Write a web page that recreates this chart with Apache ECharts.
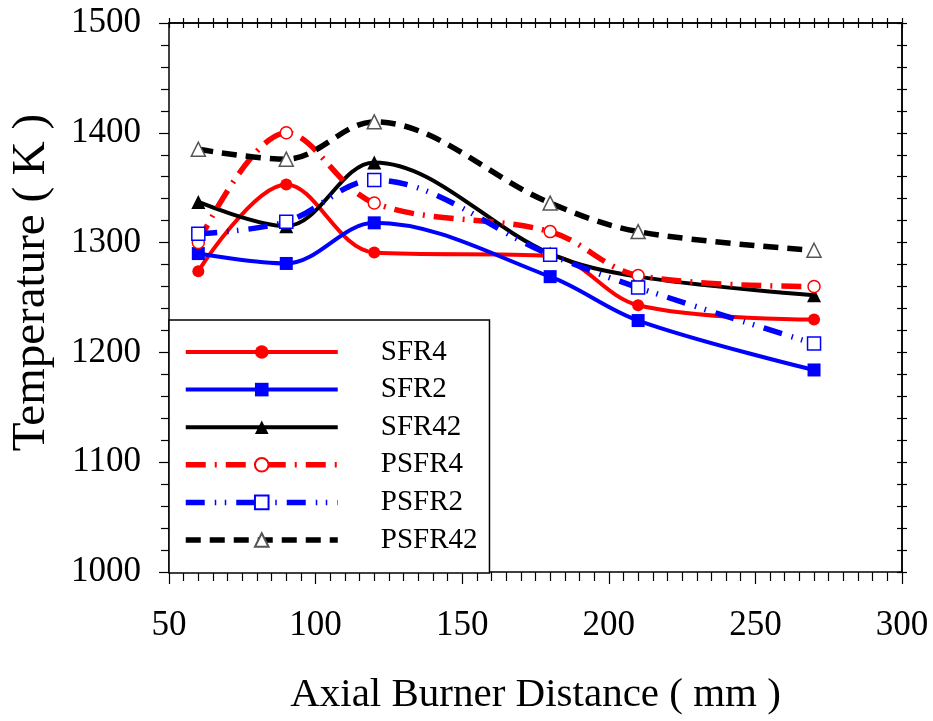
<!DOCTYPE html>
<html>
<head>
<meta charset="utf-8">
<script src="https://cdn.jsdelivr.net/npm/echarts@6/dist/echarts.min.js"></script>
<style>html,body{margin:0;padding:0;background:#fff}#c{width:933px;height:721px}</style>
</head>
<body>
<div id="c"></div>
<script>
const distances = [60, 90, 120, 180, 210, 270];
const SFR4   = [1274, 1353, 1291, 1288, 1243, 1230];
const SFR2   = [1290, 1281, 1318, 1269, 1229, 1184];
const SFR42  = [1337, 1315, 1373, 1290, 1269, 1252];
const PSFR4  = [1300, 1400, 1336, 1310, 1270, 1260];
const PSFR2  = [1308, 1319, 1357, 1289, 1259, 1208];
const PSFR42 = [1385, 1376, 1410, 1336, 1310, 1293];
const xTicks = [50, 100, 150, 200, 250, 300];
const yTicks = [1000, 1100, 1200, 1300, 1400, 1500];

const FF = "'Liberation Serif','Times New Roman',serif";
const pairs = arr => distances.map((d, i) => [d, arr[i]]);

function mk(name, data, color, lineType, width, symbol, size, filled, strokeColor) {
  return {
    name, type: 'line', data: pairs(data), smooth: 0.35,
    symbol, symbolSize: size,
    lineStyle: { color, width, type: lineType, cap: 'butt' },
    itemStyle: filled ? { color, borderWidth: 0 } : { color: '#fff', borderColor: strokeColor || color, borderWidth: 1.5 },
    emphasis: { disabled: true },
    z: 3
  };
}

const chart = echarts.init(document.getElementById('c'), null, { renderer: 'canvas' });
const axisLine = { show: true, lineStyle: { color: '#000', width: 1.5 } };
const tickStyle = { color: '#000', width: 1.2 };
chart.setOption({
  animation: false,
  backgroundColor: '#fff',
  grid: { left: 169, right: 31, top: 23, bottom: 146.5, containLabel: false },
  xAxis: [
    { type: 'value', min: xTicks[0], max: xTicks[xTicks.length - 1], interval: 50, position: 'bottom',
      axisLine, splitLine: { show: false },
      axisTick: { show: true, inside: false, length: 12, lineStyle: tickStyle },
      minorTick: { show: true, splitNumber: 10, length: 9, lineStyle: tickStyle },
      axisLabel: { margin: 36, fontFamily: FF, fontSize: 35, color: '#000', formatter: v => String(v) },
      name: 'Axial Burner Distance ( mm )', nameLocation: 'middle', nameGap: 103,
      nameTextStyle: { fontFamily: FF, fontSize: 41, color: '#000' } },
    { type: 'value', min: 50, max: 300, interval: 50, position: 'top',
      axisLine, splitLine: { show: false }, axisLabel: { show: false },
      axisTick: { show: true, inside: true, length: 5, lineStyle: tickStyle },
      minorTick: { show: true, splitNumber: 10, length: 5, lineStyle: tickStyle } },
    { type: 'value', min: 50, max: 300, interval: 50, position: 'top', offset: 0,
      axisLine, splitLine: { show: false }, axisLabel: { show: false },
      axisTick: { show: true, inside: false, length: 5, lineStyle: tickStyle },
      minorTick: { show: true, splitNumber: 10, length: 5, lineStyle: tickStyle } }
  ],
  yAxis: [
    { type: 'value', min: yTicks[0], max: yTicks[yTicks.length - 1], interval: 100, position: 'left',
      axisLine, splitLine: { show: false },
      axisTick: { show: true, inside: false, length: 10, lineStyle: tickStyle },
      minorTick: { show: true, splitNumber: 5, length: 8, lineStyle: tickStyle },
      axisLabel: { margin: 28, fontFamily: FF, fontSize: 35, color: '#000', formatter: v => String(v) },
      name: 'Temperature ( K )', nameLocation: 'middle', nameGap: 114,
      nameTextStyle: { fontFamily: FF, fontSize: 47, color: '#000', padding: [0, 0, 0, 30] } },
    { type: 'value', min: 1000, max: 1500, interval: 100, position: 'right',
      axisLine, splitLine: { show: false }, axisLabel: { show: false },
      axisTick: { show: true, inside: true, length: 5, lineStyle: tickStyle },
      minorTick: { show: true, splitNumber: 5, length: 5, lineStyle: tickStyle } },
    { type: 'value', min: 1000, max: 1500, interval: 100, position: 'right', offset: 0,
      axisLine, splitLine: { show: false }, axisLabel: { show: false },
      axisTick: { show: true, inside: false, length: 5, lineStyle: tickStyle },
      minorTick: { show: true, splitNumber: 5, length: 5, lineStyle: tickStyle } }
  ],
  legend: {
    orient: 'vertical', left: 169, top: 320,
    itemWidth: 152, itemHeight: 17, itemGap: 7.6,
    padding: [17, 12, 18, 14],
    borderColor: '#000', borderWidth: 1.5, backgroundColor: '#fff',
    selectedMode: false,
    lineStyle: { width: 'inherit', type: 'inherit' },
    textStyle: { fontFamily: FF, fontSize: 29, color: '#000', lineHeight: 30, padding: [0, 0, 0, 38] },
    data: ['SFR4', 'SFR2', 'SFR42', 'PSFR4', 'PSFR2', 'PSFR42']
  },
  series: [
    mk('SFR4', SFR4, '#ff0000', 'solid', 4, 'circle', 12, true),
    mk('SFR2', SFR2, '#0000ff', 'solid', 4, 'rect', 13, true),
    mk('SFR42', SFR42, '#000000', 'solid', 4, 'triangle', 14, true),
    mk('PSFR4', PSFR4, '#ff0000', [20, 9, 2, 9], 5.5, 'circle', 12, false),
    mk('PSFR2', PSFR2, '#0000ff', [19, 10, 1.5, 8.5, 1.5, 10], 5.5, 'rect', 13, false),
    mk('PSFR42', PSFR42, '#000000', [15, 9], 5.5, 'triangle', 14, false, '#555')
  ]
});
</script>
</body>
</html>
